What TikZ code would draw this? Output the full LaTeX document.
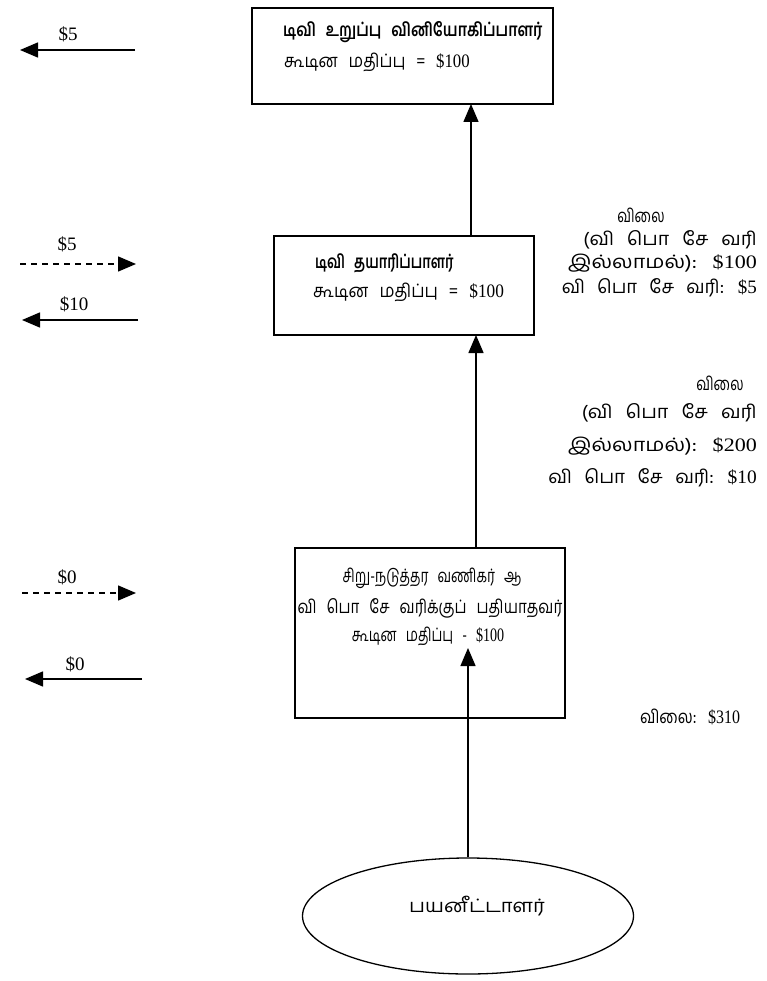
\documentclass[tikz,border=0pt]{standalone}
\usepackage{fontspec}
\usepackage{graphicx}
\setmainfont[Script=Tamil,WordSpace=2.7]{Hind Madurai}
\newfontfamily\numf{Liberation Serif}
\newcommand{\amt}[1]{{\numf\fontsize{19}{22}\selectfont\$#1}}
\newcommand{\hs}[2]{\scalebox{#1}[1]{#2}}
\usetikzlibrary{arrows.meta,shapes.geometric}
\tikzset{
  box/.style={draw,line width=1.6pt,inner sep=0pt},
  tl/.style={font=\fontsize{18.5}{22}\selectfont,inner sep=0pt},
  tlb/.style={font=\fontsize{18.5}{22}\selectfont\bfseries,inner sep=0pt},
  nl/.style={font=\numf\fontsize{19}{22}\selectfont,inner sep=0pt},
  flow/.style={line width=1.4pt,-{Triangle[length=18pt,width=15pt]}},
  dflow/.style={line width=1.4pt,dash pattern=on 6pt off 5pt,-{Triangle[length=18pt,width=15pt]}},
}
\begin{document}
\begin{tikzpicture}[x=1pt,y=-1pt]
\useasboundingbox (0,0) rectangle (766,981);
% boxes
\draw[box] (252,8) rectangle (553,104);
\coordinate (b1b) at (471,104);
\node[tlb,anchor=west] (b1t1) at (283,32) {\hs{0.81}{டிவி உறுப்பு வினியோகிப்பாளர்}};
\node[tl,anchor=west] (b1t2) at (284,62) {\hs{0.885}{கூடின மதிப்பு = \amt{100}}};

\draw[box] (274,236) rectangle (534,335);
\coordinate (b2t) at (471,236);
\coordinate (b2b) at (476,335);
\node[tlb,anchor=west] (b2t1) at (315,263) {\hs{0.74}{டிவி தயாரிப்பாளர்}};
\node[tl,anchor=west] (b2t2) at (313,292) {\hs{0.91}{கூடின மதிப்பு = \amt{100}}};

\draw[box] (295,548) rectangle (565,718);
\coordinate (b3t) at (476,548);
\coordinate (b3in) at (468,648);
\node[tl] (b3t1) at (432,578) {\hs{0.74}{சிறு-நடுத்தர வணிகர் ஆ}};
\node[tl] (b3t2) at (430,608) {\hs{0.82}{வி பொ சே வரிக்குப் பதியாதவர்}};
\node[tl] (b3t3) at (428,636) {\hs{0.74}{கூடின மதிப்பு - \amt{100}}};

\node[draw,ellipse,line width=1.3pt,minimum width=331pt,minimum height=116pt,inner sep=0pt] (cons) at (468,916) {};
\node[tl] (ct) at (477,906) {\hs{1.09}{பயனீட்டாளர்}};

% vertical arrows
\draw[flow] (b2t) -- (b1b);
\draw[flow] (b3t) -- (b2b);
\draw[flow] (cons.north) -- (b3in);

% right labels
\node[tl] (l1a) at (641,215) {\hs{0.75}{விலை}};
\node[tl,anchor=east] (l1b) at (757,240) {\hs{1.06}{(வி பொ சே வரி}};
\node[tl,anchor=east] (l1c) at (757,263) {\hs{1.16}{இல்லாமல்): \amt{100}}};
\node[tl,anchor=east] (l1d) at (757,288) {\hs{1.0}{வி பொ சே வரி: \amt{5}}};

\node[tl] (l2a) at (720,383) {\hs{0.75}{விலை}};
\node[tl,anchor=east] (l2b) at (757,413) {\hs{1.07}{(வி பொ சே வரி}};
\node[tl,anchor=east] (l2c) at (757,446) {\hs{1.16}{இல்லாமல்): \amt{200}}};
\node[tl,anchor=east] (l2d) at (757,478) {\hs{1.02}{வி பொ சே வரி: \amt{10}}};

\node[tl] (l3) at (690,717) {\hs{0.84}{விலை: \amt{310}}};

% left arrows
\coordinate (a1s) at (135,50); \coordinate (a1e) at (20,50);
\draw[flow] (a1s) -- (a1e);
\node[nl] (a1l) at (68,34) {\$5};
\coordinate (a2s) at (20,264); \coordinate (a2e) at (136,264);
\draw[dflow] (a2s) -- (a2e);
\node[nl] (a2l) at (67,244) {\$5};
\coordinate (a3s) at (138,320); \coordinate (a3e) at (22,320);
\draw[flow] (a3s) -- (a3e);
\node[nl] (a3l) at (74,304) {\$10};
\coordinate (a4s) at (22,593); \coordinate (a4e) at (136,593);
\draw[dflow] (a4s) -- (a4e);
\node[nl] (a4l) at (67,577) {\$0};
\coordinate (a5s) at (142,679); \coordinate (a5e) at (25,679);
\draw[flow] (a5s) -- (a5e);
\node[nl] (a5l) at (75,664) {\$0};
\end{tikzpicture}
\end{document}
